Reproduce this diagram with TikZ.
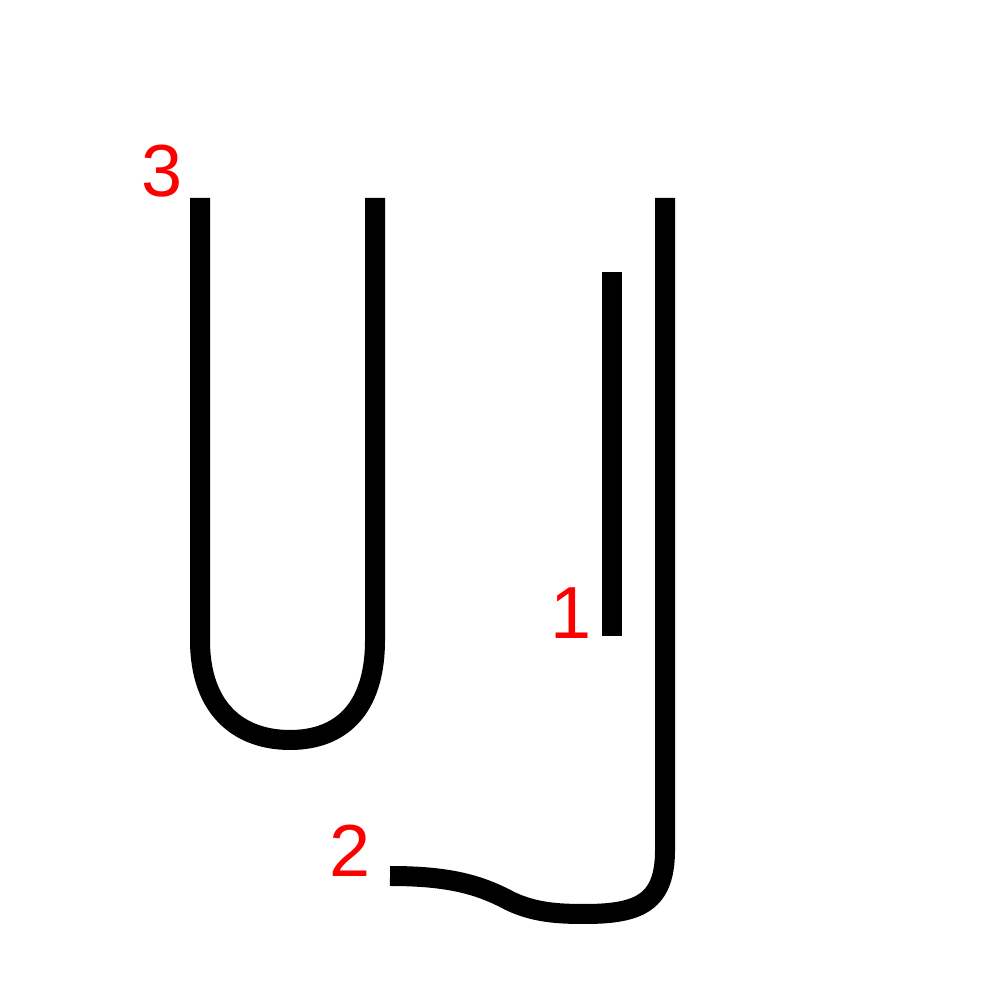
\documentclass[tikz,border=0pt]{standalone}
\usepackage{fontspec}
\setmainfont{Liberation Sans}
\usepackage{xcolor}

\begin{document}
\begin{tikzpicture}[
        stroke/.style={line width=0.2cm, black, line cap=butt},
        order/.style={text=red, font=\fontsize{21}{25}\selectfont, inner sep=0pt}
    ]
        \useasboundingbox (0,0) rectangle (10,10);

        % Stroke 1 - short vertical
        \draw[stroke] (6.12,7.28) -- (6.12,3.64);
        \node[order] (one) at (5.71,3.87) {1};

        % Stroke 2 - long vertical with hook
        \draw[stroke] (6.65,8.02) -- (6.65,1.50)
            .. controls (6.65,0.98) and (6.40,0.86) .. (5.85,0.86)
            .. controls (5.60,0.86) and (5.35,0.87) .. (5.10,0.99)
            .. controls (4.80,1.15) and (4.50,1.24) .. (3.90,1.24);
        \node[order] (two) at (3.50,1.49) {2};

        % Stroke 3 - U shape
        \draw[stroke] (2.00,8.02) -- (2.00,3.60)
            .. controls (2.00,2.90) and (2.40,2.60) .. (2.90,2.60)
            .. controls (3.40,2.60) and (3.75,2.90) .. (3.75,3.60)
            -- (3.75,8.02);
        \node[order] (three) at (1.62,8.29) {3};
    \end{tikzpicture}
\end{document}
